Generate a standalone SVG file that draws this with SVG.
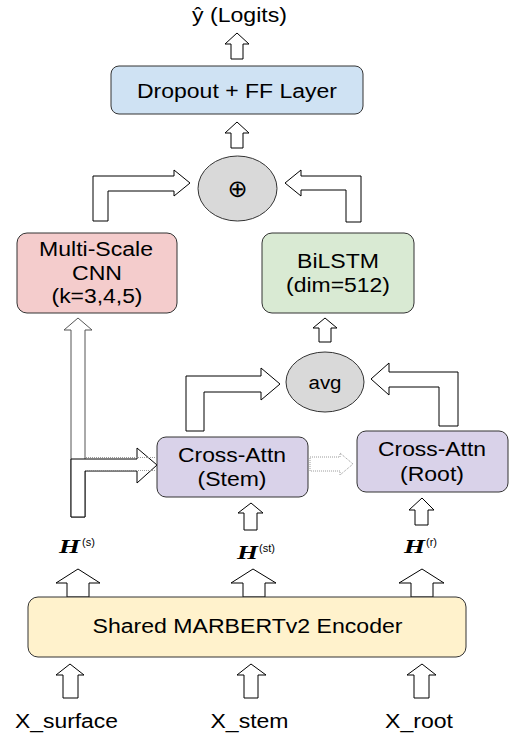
<svg xmlns="http://www.w3.org/2000/svg" width="509" height="738" viewBox="0 0 509 738">
  <style>
    .box { stroke: #333333; stroke-width: 1; }
    .blue { fill: #cfe2f3; }
    .red { fill: #f4cccc; }
    .green { fill: #d9ead3; }
    .purple { fill: #d9d2e9; }
    .yellow { fill: #fff2cc; }
    .op { fill: #d9d9d9; stroke: #333333; stroke-width: 1; }
    .arrow { fill: #ffffff; stroke: #000000; stroke-width: 1; stroke-linejoin: miter; }
    .arrow-gray { fill: #ffffff; stroke: #555555; stroke-width: 1; }
    .dotted { fill: none; stroke: #9a9a9a; stroke-width: 1; stroke-dasharray: 1 1; }
    .lbl { font-family: "Liberation Sans", Arial, sans-serif; font-size: 20px; fill: #000000; text-anchor: middle; }
    .small { font-size: 18px; }
    .oplus { font-family: "DejaVu Sans", sans-serif; font-size: 24px; fill: #000000; text-anchor: middle; }
    .hvar { font-family: "Liberation Serif", "Times New Roman", serif; font-weight: bold; font-style: italic; font-size: 19px; fill: #000000; }
    .sup { font-family: "Liberation Sans", Arial, sans-serif; font-size: 11px; fill: #000000; }
  </style>

  <!-- connectors: block arrows -->
  <g id="connectors">
    <!-- output arrow to logits -->
    <polygon class="arrow" points="237,33 249,44 243,44 243,59 231,59 231,44 225,44"/>
    <!-- fusion to dropout -->
    <polygon class="arrow" points="237,122 249,133 243,133 243,148 231,148 231,133 225,133"/>
    <!-- CNN to fusion -->
    <polygon class="arrow" points="93,221 93,176 174,176 174,170 190,183 174,196 174,191 108,191 108,221"/>
    <!-- BiLSTM to fusion -->
    <polygon class="arrow" points="361,222 361,176 301,176 301,170 285,183 301,196 301,190 346,190 346,222"/>
    <!-- avg to BiLSTM -->
    <polygon class="arrow" points="325,318 337,328 331,328 331,342 319,342 319,328 313,328"/>
    <!-- stem attention to avg -->
    <polygon class="arrow" points="186,431 186,376 261,376 261,368 280,384 261,400 261,392 204,392 204,431"/>
    <!-- root attention to avg -->
    <polygon class="arrow" points="458,426 458,372 389,372 389,363 371,379 389,395 389,387 439,387 439,426"/>
    <!-- stem attention to root attention (dotted) -->
    <polygon class="dotted" points="310,457 340,457 340,453 353,464 340,475 340,471 310,471"/>
    <!-- surface states up to CNN -->
    <polygon class="arrow-gray" points="78,318 92,330 85,330 85,517 71,517 71,330 64,330"/>
    <!-- surface states into stem attention -->
    <polygon class="arrow" points="71,517 71,459 137,459 137,448 157,465 137,483 137,471 85,471 85,517"/>
    <line class="dotted" x1="86" y1="457.5" x2="156" y2="457.5"/>
    <line class="dotted" x1="86" y1="470.5" x2="156" y2="470.5"/>
    <!-- H(st) to stem attention, H(r) to root attention -->
    <polygon class="arrow" points="251,503 263,513 257,513 257,530 244,530 244,513 238,513"/>
    <polygon class="arrow" points="422,498 434,510 428,510 428,525 415,525 415,510 409,510"/>
    <!-- encoder outputs -->
    <polygon class="arrow" points="78,569 100,583 89,583 89,597 67,597 67,583 56,583"/>
    <polygon class="arrow" points="253,569 276,583 265,583 265,597 243,597 243,583 231,583"/>
    <polygon class="arrow" points="422,569 444,583 433,583 433,597 411,597 411,583 399,583"/>
    <!-- inputs to encoder -->
    <polygon class="arrow" points="70,664 84,675 78,675 78,698 63,698 63,675 56,675"/>
    <polygon class="arrow" points="251,664 266,675 258,675 258,698 244,698 244,675 237,675"/>
    <polygon class="arrow" points="422,664 436,675 429,675 429,698 414,698 414,675 407,675"/>
  </g>

  <g id="output">
    <text class="lbl" x="239.5" y="22" textLength="95" lengthAdjust="spacingAndGlyphs">ŷ (Logits)</text>
  </g>

  <g id="dropout-ff">
    <rect class="box blue" x="111" y="66" width="252" height="48" rx="8"/>
    <text class="lbl" x="237" y="98" textLength="200" lengthAdjust="spacingAndGlyphs">Dropout + FF Layer</text>
  </g>

  <g id="fusion">
    <ellipse class="op" cx="237.5" cy="188.5" rx="39.5" ry="32.5"/>
    <text class="oplus" x="237.5" y="197">⊕</text>
  </g>

  <g id="cnn">
    <rect class="box red" x="17" y="233" width="160" height="80" rx="10"/>
    <text class="lbl" x="96" y="256" textLength="114" lengthAdjust="spacingAndGlyphs">Multi-Scale</text>
    <text class="lbl" x="97" y="280" textLength="50" lengthAdjust="spacingAndGlyphs">CNN</text>
    <text class="lbl" x="97" y="303" textLength="91" lengthAdjust="spacingAndGlyphs">(k=3,4,5)</text>
  </g>

  <g id="bilstm">
    <rect class="box green" x="262" y="233" width="152" height="80" rx="10"/>
    <text class="lbl" x="338" y="268" textLength="82" lengthAdjust="spacingAndGlyphs">BiLSTM</text>
    <text class="lbl" x="338" y="292" textLength="104" lengthAdjust="spacingAndGlyphs">(dim=512)</text>
  </g>

  <g id="avg">
    <ellipse class="op" cx="325" cy="382" rx="39" ry="30"/>
    <text class="lbl small" x="325" y="389" textLength="33" lengthAdjust="spacingAndGlyphs">avg</text>
  </g>

  <g id="cross-attn-stem">
    <rect class="box purple" x="157" y="437" width="151" height="60" rx="9"/>
    <text class="lbl" x="232" y="462" textLength="108" lengthAdjust="spacingAndGlyphs">Cross-Attn</text>
    <text class="lbl" x="232" y="486" textLength="69" lengthAdjust="spacingAndGlyphs">(Stem)</text>
  </g>

  <g id="cross-attn-root">
    <rect class="box purple" x="357" y="431" width="151" height="61" rx="9"/>
    <text class="lbl" x="432" y="456" textLength="108" lengthAdjust="spacingAndGlyphs">Cross-Attn</text>
    <text class="lbl" x="432" y="481" textLength="64" lengthAdjust="spacingAndGlyphs">(Root)</text>
  </g>

  <g id="hidden-states">
    <text class="hvar" x="59" y="553" textLength="21" lengthAdjust="spacingAndGlyphs">H</text>
    <text class="sup" x="82" y="546">(s)</text>
    <text class="hvar" x="237" y="559" textLength="21" lengthAdjust="spacingAndGlyphs">H</text>
    <text class="sup" x="259" y="552">(st)</text>
    <text class="hvar" x="404" y="553" textLength="21" lengthAdjust="spacingAndGlyphs">H</text>
    <text class="sup" x="426" y="546">(r)</text>
  </g>

  <g id="encoder">
    <rect class="box yellow" x="28" y="597" width="438" height="60" rx="10"/>
    <text class="lbl" x="247.5" y="633" textLength="310" lengthAdjust="spacingAndGlyphs">Shared MARBERTv2 Encoder</text>
  </g>

  <g id="inputs">
    <text class="lbl" x="66.5" y="728" textLength="103" lengthAdjust="spacingAndGlyphs">X_surface</text>
    <text class="lbl" x="249.5" y="728" textLength="78" lengthAdjust="spacingAndGlyphs">X_stem</text>
    <text class="lbl" x="419" y="728" textLength="68" lengthAdjust="spacingAndGlyphs">X_root</text>
  </g>
</svg>
